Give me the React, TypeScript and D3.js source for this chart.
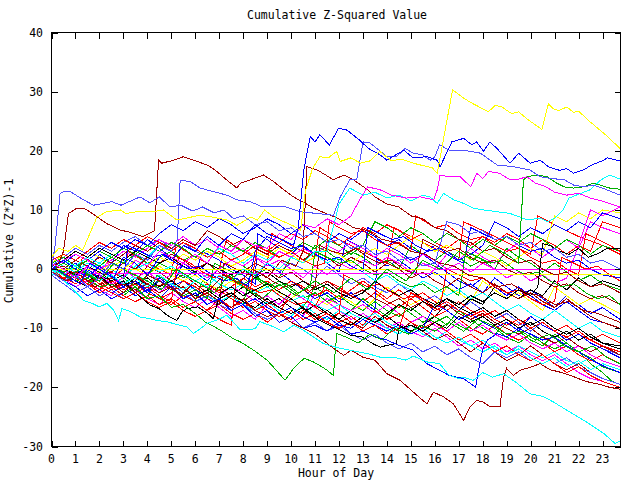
import React from 'react';
import * as d3 from 'd3';

const title = 'Cumulative Z-Squared Value';
const xLabel = 'Hour of Day';
const yLabel = 'Cumulative (Z*Z)-1';
const xTickLabels = [0, 1, 2, 3, 4, 5, 6, 7, 8, 9, 10, 11, 12, 13, 14, 15, 16, 17, 18, 19, 20, 21, 22, 23];
const yTickLabels = [-30, -20, -10, 0, 10, 20, 30, 40];
const xDomain = [0, 23.75];
const yDomain = [-30, 40];

type Pt = [number, number];

// [hour, cumulative value]
const yellowTop: Pt[] = [[0,2],[0.3,3.5],[0.7,3],[1,4],[1.3,3.2],[1.6,6],[1.9,8.8],[2.3,9.7],[2.87,10],[3.1,9.4],[3.56,9.7],[4.26,9.7],[4.67,10],[5.23,8.3],[5.6,8.6],[6.2,9.1],[6.7,8.8],[7.32,8.3],[7.74,7.4],[7.88,7.7],[8.3,8.8],[8.6,8.3],[8.9,10],[9.27,8.8],[9.7,8],[10.1,7.3],[10.4,6.5],[10.6,13.3],[10.9,17],[11.2,19],[11.55,18.8],[11.9,19.9],[12.05,18.2],[12.5,18.8],[12.9,17.9],[13.3,18.3],[13.7,19.9],[14.2,18.3],[14.6,18.6],[15.1,17.9],[15.5,17.5],[15.9,17.1],[16.1,16.2],[16.74,30.3],[17.2,28.9],[17.55,28.05],[18.24,26.6],[18.52,27.7],[18.8,27.4],[19.2,26.3],[19.5,26.6],[19.84,25.4],[20.47,23.6],[20.74,27.9],[20.95,27.1],[21.16,26.8],[21.51,27.4],[21.79,26.5],[22.0,26.7],[22.48,24.9],[23.1,22.8],[23.73,20.4]];
const blueTop: Pt[] = [[0,0.5],[0.6,-1],[1.2,-2.5],[1.6,1],[2,0],[2.6,-1.5],[3,2],[3.5,1],[4,-1],[4.6,2.5],[5,1.5],[5.5,4],[6,3],[6.5,5.5],[7,4],[7.5,6],[8,5],[8.5,7.5],[9,6],[9.6,5],[10.1,4],[10.3,7],[10.53,16.75],[10.8,22.4],[11.0,21.5],[11.2,22.7],[11.6,21.0],[11.98,23.8],[12.33,23.5],[12.8,22],[13.23,20.4],[13.72,19.3],[14.0,18.4],[14.7,20.1],[15.1,18.8],[15.67,19.0],[16.1,18.4],[16.22,17.3],[16.71,21.5],[17.2,22.1],[17.55,21.0],[17.75,21.5],[18.03,19.9],[18.3,21.5],[18.59,20.4],[19.14,17.9],[19.5,19.6],[19.98,17.9],[20.4,18.4],[20.74,17.3],[21.2,16.7],[21.5,17.0],[21.79,16.2],[22.2,16.75],[22.55,17.6],[23.05,18.4],[23.2,18.8],[23.73,18.3]];
const lightBlueEarly: Pt[] = [[0,0],[0.15,4],[0.36,12.8],[0.57,13.2],[0.78,13.1],[1.34,11.7],[1.75,10.8],[2.17,11.1],[2.52,11.4],[2.9,10.8],[3.3,11.5],[3.7,12.2],[4.1,11.2],[4.5,12.2],[4.95,10.5],[5.4,10.8],[5.9,9.8],[6.3,10.5],[6.8,9.5],[7.2,10],[7.6,8.5],[8,9],[8.5,7.5],[9,8],[9.5,6.5],[10,7],[10.5,5.5],[11,6],[11.5,4.5],[12,5],[12.5,3.5],[13,4],[13.5,2.5],[14,3],[14.5,1.5],[15,2],[15.5,0.5],[16,1],[16.5,8],[17,7.5],[17.5,6],[18,6.5],[18.5,5],[19,5.5],[19.5,4],[20,4.5],[20.5,3],[21,3.5],[21.5,2],[22,2.5],[22.5,1],[23,1.5],[23.73,0]];
const lightBlueLate: Pt[] = [[0,-0.5],[0.5,-2],[1,-1],[1.5,-3],[2,-1.5],[2.5,1],[3,0],[3.5,2.5],[4,1.5],[4.5,4],[5,3],[5.25,5],[5.37,15],[5.8,14.8],[6.2,13.7],[6.75,13.1],[7.32,12.5],[7.74,11.7],[8.3,11.4],[8.8,10.5],[9.27,10.5],[9.8,10.5],[10.38,9.7],[11.08,9.4],[11.77,9.1],[12.05,12.2],[12.45,15.1],[12.74,15.1],[13.0,21.5],[13.3,21.3],[13.58,20.4],[14.0,19],[14.4,19],[14.76,20.4],[15.1,19.6],[15.5,19.3],[15.8,18.4],[16.0,19],[16.2,21],[16.6,20.1],[17.2,20.1],[17.9,19.6],[18.6,17.6],[19.3,17.3],[19.98,16.75],[20.4,15.6],[20.9,15.3],[21.4,15.1],[21.8,14.2],[22.2,13.9],[22.6,14.2],[23.0,13.7],[23.73,12.5]];
const magentaHigh: Pt[] = [[0,1],[0.5,0],[1,-1.5],[1.5,0.5],[2,-1],[2.5,-2.5],[3,-1.5],[3.5,1.5],[4,0.5],[4.5,3],[5,2],[5.5,1],[6,2.5],[6.5,1],[7,4],[7.5,3],[8,5],[8.5,4],[9,3.5],[9.5,6],[10,5],[10.5,7.5],[11,7],[11.5,8.5],[12,7.5],[12.5,9],[12.9,12],[13.2,13.9],[13.72,13.4],[14.2,12.5],[14.8,12],[15.4,12.2],[15.95,11.7],[16.1,13.4],[16.22,15.9],[16.6,15.6],[17.06,15.6],[17.5,13.9],[17.75,16.2],[18.0,15.3],[18.24,16.5],[18.7,16.2],[19.14,15.1],[19.4,15.1],[19.84,15.6],[20.2,14.5],[20.6,14],[21,13],[21.5,12.5],[22,12.8],[22.5,12],[23,11.5],[23.73,10.5]];
const greenHigh: Pt[] = [[0,0.5],[0.7,-1.5],[1.2,0],[2,-2],[2.6,1],[3.2,-0.5],[4,-2],[4.6,-3.5],[5.2,0],[6,-2],[6.8,-4],[7.4,-1],[8,-3],[8.8,-5],[9.5,-2.5],[10.2,-4.5],[11,-2],[11.8,-4],[12.5,-1.5],[13.2,-3.5],[14,0],[14.8,-2],[15.5,1.5],[16.2,0],[17,3],[17.6,1.5],[18.3,4],[19,2.5],[19.5,1],[19.56,5.5],[19.7,15.1],[19.84,15.6],[20.26,15.9],[20.7,15.6],[21.1,14.5],[21.4,13.9],[21.8,13.7],[22.2,13.9],[22.6,14.5],[22.9,14.2],[23.3,13.7],[23.73,13.5]];
const cyanHigh: Pt[] = [[0,0],[0.5,-1],[1,0.5],[1.5,-0.5],[2,-2],[2.5,-1],[3,-2.5],[3.5,-1.5],[4,-3],[4.5,-1],[5,-2.5],[5.5,-3.5],[6,-2],[6.5,-3],[7,-1],[7.5,-2],[8,0],[8.5,-1],[9,1],[9.5,0],[10,2],[10.5,1],[11,3],[11.5,3],[12,11],[12.45,13.7],[13,12.5],[13.5,13],[14,12],[14.5,12.5],[15,11.5],[15.5,12.5],[15.8,12.2],[16.1,11.1],[16.36,12.8],[16.8,11.7],[17.2,11.1],[17.6,10.3],[18.03,10],[18.6,9.7],[19.14,9.4],[19.56,8.8],[19.84,8.3],[20.4,8.6],[20.7,8.0],[21.0,8.6],[21.35,10],[21.6,12],[21.9,12.5],[22.48,13.4],[22.9,15],[23.3,15.9],[23.73,15.2]];
const darkRedEarly: Pt[] = [[0,0.5],[0.3,1],[0.5,3],[0.71,9.4],[1.06,10.3],[1.34,10.3],[1.6,9.7],[2.3,7.7],[2.87,6.6],[3.3,6.2],[3.8,5.5],[4.3,6.5],[4.47,18.4],[4.6,17.9],[5.1,18.4],[5.5,19.0],[6.07,18.2],[6.5,17.6],[6.83,16.75],[7.3,15.1],[7.74,13.7],[7.88,14.5],[8.3,15.1],[8.85,15.9],[9.27,14.8],[9.7,13.4],[10.1,12.2],[10.6,11.1],[10.94,10.3],[11.4,9.5],[12,8.5],[12.6,7],[13.2,6.5],[13.8,5],[14.4,4.5],[15,3],[15.6,2.5],[16.2,1],[16.8,0.5],[17.4,-1],[18,-1.5],[18.6,-3],[19.2,-2.5],[19.8,-4],[20.4,-4.5],[21,-6],[21.6,-5.5],[22.2,-7],[22.8,-7.5],[23.73,-9]];
const darkRedMid: Pt[] = [[0,-0.5],[0.6,-2],[1.2,-1],[1.8,-3],[2.4,-2],[3,-4],[3.6,-1.5],[4.2,-3],[4.8,-2.5],[5.4,-4.5],[6,-2],[6.6,-3.5],[7.2,-1],[7.8,-2.5],[8.4,0],[9,-1.5],[9.6,1.5],[10.2,0.5],[10.5,3],[10.66,17.3],[11.1,16.75],[11.77,15.1],[12.2,15.9],[12.6,15.1],[13.2,13.4],[13.5,12.2],[14,11],[14.5,10.5],[15,9],[15.5,8.5],[16,7],[16.5,6.5],[17,5],[17.5,4.5],[18,3],[18.5,3.5],[19,2],[19.5,1],[20,1.5],[20.5,0],[21,-1],[21.5,-0.5],[22,-2],[22.5,-3],[23,-2.5],[23.73,-4]];
const cyanLow: Pt[] = [[0,0],[0.4,-1.5],[0.8,-3],[1.34,-5.3],[1.7,-5.8],[2.0,-6.4],[2.31,-5.8],[2.6,-7],[2.8,-8.7],[2.94,-6.7],[3.3,-7.2],[3.7,-8.1],[4.1,-8.4],[4.4,-8.7],[4.8,-8.9],[5.37,-9.5],[5.65,-9.8],[5.93,-10.9],[6.2,-10.1],[6.49,-9.2],[7.04,-8.4],[7.32,-7.8],[7.6,-9],[7.88,-10.3],[8.5,-10.1],[8.7,-8.9],[9.3,-9.8],[9.7,-10.6],[10.1,-9.5],[10.5,-10.3],[11.35,-12.6],[12.05,-13.4],[13.2,-14.3],[13.72,-14.9],[14.3,-14.9],[14.8,-15.4],[15.1,-14.7],[15.67,-15.7],[16.2,-16],[16.6,-18],[17.0,-18.5],[17.2,-18.3],[17.6,-18.8],[18.0,-17.5],[18.4,-18.3],[18.87,-17.7],[19.4,-19.2],[19.98,-21.1],[20.5,-21.5],[20.96,-22.5],[21.65,-24.2],[22.35,-25.9],[23.05,-27.8],[23.53,-29.5],[23.73,-29.1]];
const greenLow: Pt[] = [[0,0.5],[0.5,-1],[1,-2],[1.5,-1.5],[2,-3],[2.5,-2.5],[3,-4],[3.5,-3],[4,-5],[4.5,-4.5],[5,-6.5],[5.5,-6],[6,-7.5],[6.4,-8.9],[7.04,-10.3],[7.6,-11.8],[7.88,-12.3],[8.43,-13.7],[9.0,-15.4],[9.27,-16.6],[9.75,-18.8],[9.95,-17.7],[10.1,-16.8],[10.38,-15.7],[10.55,-15.1],[10.93,-15.7],[11.2,-16.3],[11.5,-17.1],[11.77,-18.0],[11.84,-14],[11.91,-10.9],[12.3,-11.5],[12.8,-12.5],[13.3,-11],[13.8,-12],[14.3,-10],[14.9,-11],[15.4,-9.5],[16,-10.5],[16.6,-9],[17.2,-10.5],[17.8,-8.5],[18.4,-9.5],[19,-11],[19.6,-10.5],[20.2,-12],[20.8,-11],[21.4,-13],[22,-14],[22.6,-13],[23.2,-15],[23.73,-16]];
const darkRedLow: Pt[] = [[0,0],[0.5,-1],[1,-0.5],[1.5,-2],[2,-1.5],[2.5,-3],[3,-2.5],[3.5,-4],[4,-1],[4.5,-2],[5,-3.5],[5.5,-3],[6,-5],[6.5,-4],[7,-5.5],[7.5,-6.5],[8,-5],[8.5,-7],[9,-8],[9.5,-7.5],[10,-9],[10.5,-10],[11,-11],[11.4,-12.2],[11.77,-13.4],[12.2,-14.6],[12.5,-13.7],[13.0,-14.9],[13.5,-15.4],[14.0,-17.7],[14.55,-18.8],[15.1,-20.8],[15.67,-22.8],[15.94,-20.8],[16.36,-21.6],[16.78,-22.8],[17.2,-25.6],[17.47,-23.3],[17.75,-22.2],[18.03,-22.5],[18.3,-23.3],[18.72,-23.3],[18.87,-18.3],[19.0,-16.8],[19.28,-18.0],[19.56,-17.1],[19.98,-16.6],[20.4,-16],[20.8,-17],[21.3,-17.5],[21.8,-18.2],[22.3,-19],[22.9,-19.5],[23.3,-20],[23.73,-20.3]];
const blueLow: Pt[] = [[0,0],[0.5,1.5],[1,0],[1.5,-1.5],[2,0.5],[2.5,-1],[3,-3],[3.5,-2],[4,-4],[4.5,-1.5],[5,-3],[5.5,-5],[6,-4],[6.5,-6],[7,-5],[7.5,-7],[8,-6],[8.5,-8],[9,-7],[9.5,-9],[10,-8],[10.5,-10],[11,-9.5],[11.5,-10.5],[12,-9],[12.5,-11],[13,-10.5],[13.5,-11.5],[14,-12],[14.5,-12.9],[15.1,-13.7],[15.67,-16],[16.2,-17.1],[16.6,-18],[17.2,-18.5],[17.7,-20],[17.9,-15.4],[18.03,-13.2],[18.2,-12],[18.6,-10.9],[19,-11.5],[19.5,-10],[20,-11],[20.5,-12],[21,-11.5],[21.5,-13],[22,-14],[22.6,-15.5],[23.1,-16.5],[23.73,-17.5]];
const blackMid: Pt[] = [[0,0],[0.5,-1],[1,-0.5],[1.5,-2],[2,-1],[2.5,-3],[3,-2],[3.5,-4],[4.12,-6.1],[4.5,-6.7],[4.82,-7.8],[5.23,-8.7],[5.45,-7.2],[5.65,-6.7],[6.1,-6.4],[6.34,-7],[6.6,-7.8],[6.76,-8.4],[6.9,-6.1],[7.04,-4.1],[7.5,-3],[8,-4.5],[8.5,-3.5],[9,-2.5],[9.4,-3.6],[10,-5],[10.6,-7],[11.2,-8.7],[11.6,-9.5],[12.05,-10.3],[12.5,-11.2],[13.0,-11.5],[13.4,-12.6],[13.72,-13.2],[14.0,-12.9],[14.4,-12.6],[14.5,-10],[15,-9.5],[15.5,-10.5],[16,-9],[16.5,-10],[17,-8],[17.5,-9],[18,-8],[18.5,-9.5],[19,-8.5],[19.5,-10],[20,-9],[20.5,-10.5],[21,-11.5],[21.5,-10.5],[22,-12],[22.5,-11],[23,-12.5],[23.73,-13]];
const blackRight: Pt[] = [[0,1],[0.5,0],[1,-1],[1.5,0.5],[2,-0.5],[2.5,-2],[3,-1],[3.5,-2.5],[4,-1.5],[4.5,-3],[5,-2],[5.5,-3.5],[6,-4.5],[6.5,-3.5],[7,-5],[7.5,-4],[8,-5.5],[8.5,-6.5],[9,-5],[9.5,-6.5],[10,-7.5],[10.5,-6.5],[11,-8],[11.5,-7],[12,-8.5],[12.5,-9.5],[13,-8],[13.5,-9],[14,-7.5],[14.5,-6],[15,-7],[15.5,-5.5],[16,-6.5],[16.5,-5],[17,-6],[17.5,-4.5],[18,-5.5],[18.5,-4],[19,-5],[19.5,-3.5],[20,-4.5],[20.3,-3],[20.5,4.3],[20.8,4],[21.2,3],[21.6,2.5],[22,3.5],[22.4,2],[22.8,2.6],[23.2,3.5],[23.73,3.5]];

const band01: Pt[] = [[0,0],[1,-2],[1.3,2],[2,0.5],[3,-1.5],[3.2,3],[4,1],[5,-1],[5.2,4],[6,2],[7,0],[7.3,5],[8,3],[9,1],[9.2,6],[10,4],[11,2],[11.2,7],[12,5],[13,3],[14,1],[14.3,7],[15,5.5],[16,3.5],[17,1.5],[17.2,8],[18,6.5],[19,4.5],[20,2.5],[20.3,9],[21,7.5],[22,5.5],[23,4],[23.73,2.5]];
const band02: Pt[] = [[0,1],[0.5,0],[1,-1.5],[1.5,-2.5],[2,-1],[2.5,-3],[3,-4.5],[3.5,-3],[4,-5],[4.4,-1],[5,-2.5],[5.5,-4],[6,-5.5],[6.3,-2],[7,-3.5],[7.5,-5],[8,-6],[8.3,-1],[9,-2.5],[9.5,-4],[10,-5],[10.5,-6.5],[11,-3],[11.5,-4.5],[12,-6],[12.5,-7],[13,-5],[13.5,-6.5],[14,-8],[14.5,-6],[15,-7.5],[15.5,-9],[16,-8],[16.5,-9.5],[17,-7],[17.5,-8.5],[18,-10],[18.5,-11],[19,-9],[19.5,-10.5],[20,-12],[20.5,-13],[21,-11],[21.5,-12.5],[22,-14],[22.5,-16],[23,-17.5],[23.4,-19],[23.73,-19.5]];
const band03: Pt[] = [[0,0.5],[0.5,-0.5],[1,1],[1.5,-0.5],[2,2.5],[2.5,1],[3,4],[3.5,3],[4,5],[4.5,3.5],[5,2],[5.5,0.5],[6,-1],[6.3,3],[7,1.5],[7.5,0],[8,-1],[8.5,-2.5],[8.6,6],[9,5],[9.5,3.5],[10,2.5],[10.4,4],[11,2.5],[11.5,1],[12,-0.5],[12.3,5],[13,3.5],[13.5,2],[14,0.5],[14.5,1.5],[15,0],[15.5,-1.5],[16,-0.5],[16.5,-2],[17,-3.5],[17.5,-2.5],[18,-4],[18.5,-1.5],[19,-3],[19.5,-4.5],[20,-3.5],[20.5,-5],[21,-6.5],[21.5,-4.5],[22,-6],[22.5,-7.5],[23,-6.5],[23.73,-8.5]];
const band04: Pt[] = [[0,-0.5],[0.5,-1.5],[1,-3],[1.5,-2],[2,-3.5],[2.5,-4.5],[3,-2],[3.5,-3.5],[4,-5],[4.5,-6],[5,-4],[5.5,-5.5],[6,-6.5],[6.5,-5],[7,-6.5],[7.5,-8],[8,-7],[8.5,-8.5],[9,-6],[9.5,-7.5],[10,-9],[10.5,-8],[11,-4],[11.5,-5.5],[12,-7],[12.5,-8.5],[13,-7.5],[13.5,-9],[14,-10],[14.5,-9],[15,-10.5],[15.5,-11.5],[16,-10],[16.5,-11.5],[17,-13],[17.5,-12],[18,-13.5],[18.5,-12.5],[19,-14],[19.5,-13],[20,-14.5],[20.5,-15.5],[21,-14.5],[21.5,-16],[22,-17.5],[22.5,-18.5],[23,-19],[23.73,-20]];
const band05: Pt[] = [[0,1.5],[0.5,0.5],[1,-0.5],[1.5,1],[2,0],[2.5,-1.5],[3,-2.5],[3.5,-1],[4,-2],[4.5,-3.5],[5,-2.5],[5.5,-4],[6,-3],[6.5,-4.5],[7,-5.5],[7.5,-4.5],[8,-6],[8.5,-7],[9,-5.5],[9.5,-7],[10,-8],[10.5,-6],[11,-7.5],[11.5,-8.5],[12,-7],[12.5,-8],[13,-9.5],[13.5,-8.5],[14,-10],[14.5,-11],[15,-9.5],[15.5,-11],[16,-12],[16.5,-10.5],[17,-12],[17.5,-13],[18,-12],[18.5,-13.5],[19,-14.5],[19.5,-13],[20,-14],[20.5,-15],[21,-14],[21.5,-15.5],[22,-16],[22.5,-15],[23,-16.5],[23.73,-17.5]];
const band06: Pt[] = [[0,0],[0.5,1],[1,0],[1.5,-1],[2,-2.5],[2.5,-1.5],[3,-3],[3.5,-2],[4,0.5],[4.5,-0.5],[5,-2],[5.5,-1],[6,-2.5],[6.5,-4],[7,-3],[7.5,-4.5],[8,-5.5],[8.5,-4],[9,-5.5],[9.5,-6.5],[10,-5],[10.5,-6.5],[11,-8],[11.5,-9],[12,-7.5],[12.5,-9],[13,-10],[13.5,-8],[14,-9.5],[14.5,-10.5],[15,-9],[15.5,-10.5],[16,-12],[16.5,-11],[17,-12.5],[17.5,-14],[18,-12.5],[18.5,-14],[19,-15.5],[19.5,-14.5],[20,-13],[20.5,-14.5],[21,-16],[21.5,-17],[22,-16],[22.5,-17.5],[23,-18.5],[23.73,-19.5]];
const band07: Pt[] = [[0,1],[0.5,2.5],[1,1.5],[1.5,3],[2,2],[2.5,0.5],[3,1.5],[3.5,0],[4,-1],[4.5,0.5],[5,-1],[5.5,-2],[6,-1],[6.5,-2.5],[7,-3.5],[7.5,-2],[8,-3],[8.5,-4],[9,-2.5],[9.5,-4],[10,-5],[10.5,-3.5],[11,-5],[11.5,-6],[12,-4.5],[12.5,-5.5],[13,-7],[13.5,-5],[14,-3],[14.5,-4.5],[15,-6],[15.5,-5],[16,-6.5],[16.5,-3],[17,-4],[17.5,-5.5],[18,-2],[18.5,-3.5],[19,-5],[19.5,-4],[20,-5.5],[20.5,-7],[21,-3],[21.5,-4.5],[22,-6],[22.5,-5],[23,-6],[23.73,-7.5]];
const band08: Pt[] = [[0,0],[0.5,-1],[1,-2],[1.5,-3],[2,-1],[2.5,-2],[3,-3],[3.5,-1.5],[4,-2.5],[4.5,-4],[5,-3],[5.5,-4.5],[6,-3.5],[6.5,-5],[7,-6],[7.5,-4.5],[8,-3],[8.5,-4.5],[9,-6],[9.5,-5],[10,-6.5],[10.5,-7.5],[11,-6],[11.5,-7.5],[12,-8.5],[12.5,-7],[13,-8],[13.5,-9],[14,-8],[14.5,-9.5],[15,-10.5],[15.5,-9.5],[16,-8],[16.5,-6],[17,-7],[17.5,-5],[18,-6],[18.5,-3],[19,-4],[19.5,-5],[20,-3.5],[20.5,-4.5],[21,-2],[21.5,-3.5],[22,-1.5],[22.5,-3],[23,-2],[23.73,-3]];
const band09: Pt[] = [[0,0.5],[0.5,2],[1,3.5],[1.5,2.5],[2,4],[2.5,3],[3,4.5],[3.5,5.5],[4,4],[4.5,5],[5,3.5],[5.5,4.5],[6,3],[6.5,2],[7,3],[7.5,1.5],[8,0.5],[8.5,2],[9,1],[9.5,-0.5],[10,1],[10.5,0],[11,-1.5],[11.5,0.5],[12,-1],[12.5,-2.5],[13,-1.5],[13.5,-3],[14,-4],[14.5,-2.5],[15,-4],[15.5,-5.5],[16,-4.5],[16.5,-6],[17,-7],[17.5,-5.5],[18,-7],[18.5,-8.5],[19,-7.5],[19.5,-9],[20,-10.5],[20.5,-9],[21,-10.5],[21.5,-12],[22,-11],[22.5,-12.5],[23,-13.5],[23.73,-14.5]];
const band10: Pt[] = [[0,0],[0.5,-1.5],[1,-1],[1.5,-2.5],[2,-3.5],[2.5,-2],[3,-3],[3.5,-4.5],[4,-3.5],[4.5,-5],[5,-6],[5.5,-4.5],[6,-5.5],[6.5,-7],[7,-6],[7.5,-7.5],[8,-8.5],[8.5,-7.5],[9,-9],[9.5,-7.5],[10,-4],[10.5,-5],[11,-6.5],[11.5,-2],[12,-3],[12.5,-4.5],[13,-5.5],[13.5,-4],[14,-5.5],[14.5,-6.5],[15,-5],[15.5,-6.5],[16,-8],[16.5,-7],[17,-8.5],[17.5,-10],[18,-11],[18.5,-9.5],[19,-11],[19.5,-12],[20,-11],[20.5,-12.5],[21,-14],[21.5,-13],[22,-14.5],[22.5,-15.5],[23,-14.5],[23.73,-16]];
const band11: Pt[] = [[0,1],[0.5,2],[1,0.5],[1.5,1.5],[2,3],[2.5,2],[3,3.5],[3.5,2.5],[4,1],[4.5,2],[5,3],[5.5,1.5],[6,2.5],[6.5,1],[7,0],[7.5,1.5],[8,0.5],[8.5,-1],[9,0],[9.5,-1.5],[10,2],[10.5,1],[11,4],[11.5,3],[12,1.5],[12.5,3],[13,2],[13.5,0.5],[14,1.5],[14.5,0],[15,4],[15.5,2.5],[16,1.5],[16.5,3],[17,2],[17.5,0.5],[18,1.5],[18.5,0],[19,3.5],[19.5,2],[20,1],[20.5,-0.5],[21,1],[21.5,-0.5],[22,-2],[22.5,-1],[23,-2.5],[23.73,-3.5]];
const band12: Pt[] = [[0,-0.5],[0.5,-2],[1,-3],[1.5,-4.5],[2,-3.5],[2.5,-5],[3,-4],[3.5,-2],[4,-3.5],[4.5,-5],[5,-3],[5.5,1],[6,-0.5],[6.5,-2],[7,0],[7.5,-1.5],[8,-3],[8.5,-1.5],[9,1],[9.5,-0.5],[10,-2],[10.5,-3.5],[11,-5],[11.5,-4],[12,-5.5],[12.5,-4],[13,-5.5],[13.5,-7],[13.6,5],[14,4],[14.5,3],[15,1.5],[15.5,2.5],[16,1],[16.5,-0.5],[17,-2],[17.5,-3],[18,-1.5],[18.5,-3],[19,-4.5],[19.5,-3],[20,-4.5],[20.5,-6],[21,-7],[21.5,-5.5],[22,-7],[22.5,-8.5],[23,-9],[23.73,-10]];
const band13: Pt[] = [[0,2],[0.5,1],[1,2.5],[1.5,1.5],[2,0],[2.5,1.5],[3,3],[3.5,2],[4,3.5],[4.5,5],[5,4],[5.5,5.5],[6,4],[6.5,5],[7,3.5],[7.5,2.5],[8,3.5],[8.5,2],[9,0.5],[9.5,1.5],[10,0],[10.5,-1.5],[11,0.5],[11.5,-1],[12,1],[12.5,0],[13,1.5],[13.5,0.5],[14,2],[14.5,1],[15,-0.5],[15.5,1],[16,0],[16.5,2.5],[17,1.5],[17.5,3.5],[18,2],[18.5,1],[19,3],[19.5,4.5],[20,3.5],[20.5,2],[21,3.5],[21.5,5],[22,3.5],[22.5,8],[23,7],[23.73,6]];
const band14: Pt[] = [[0,-1],[0.5,0],[1,-1.5],[1.5,-0.5],[2,1],[2.5,0],[3,-1.5],[3.5,0.5],[4,2],[4.5,4],[5,3],[5.5,4.5],[6,3.5],[6.5,2],[7,3.5],[7.5,2.5],[8,1],[8.5,2.5],[9,1.5],[9.5,3],[10,2],[10.5,3.5],[11,2.5],[11.5,1],[12,2],[12.5,0.5],[13,-0.5],[13.5,-2],[14,-1],[14.5,-2.5],[15,-3.5],[15.5,-2],[16,-3],[16.5,-4.5],[17,-3.5],[17.5,-5],[18,-4],[18.5,-5.5],[19,-7],[19.5,-6],[20,-7.5],[20.5,-8.5],[21,-7],[21.5,-8.5],[22,-10],[22.5,-9],[23,-10.5],[23.73,-11.5]];
const band15: Pt[] = [[0,1],[0.5,0],[1,1.5],[1.5,0.5],[2,2],[2.5,1],[3,2.5],[3.5,4],[4,3],[4.5,4.5],[5,3.5],[5.5,5],[6,4],[6.5,6.5],[7,5.5],[7.5,4],[8,5],[8.5,3.5],[9,2.5],[9.5,4],[10,3],[10.5,1.5],[11,3],[11.5,2],[12,0.5],[12.5,2],[13,1],[13.5,-0.5],[14,1],[14.5,0],[15,-1.5],[15.5,-0.5],[16,-2],[16.5,-3],[17,-1.5],[17.5,-3],[18,-4],[18.5,-2.5],[19,-4],[19.5,-5],[20,-4],[20.5,-5.5],[21,-6.5],[21.5,-5],[22,-6.5],[22.5,-8],[23,-9],[23.73,-10]];
const band16: Pt[] = [[0,0.5],[0.5,-0.5],[1,-2],[1.5,-1],[2,-2.5],[2.5,-1.5],[3,0],[3.5,-1],[4,-2.5],[4.5,-1.5],[5,-3],[5.5,-2],[6,-3.5],[6.5,-2.5],[7,-4],[7.5,-3],[8,-1.5],[8.5,-3],[9,-2],[9.5,-3.5],[10,-2],[10.5,-3],[11,-4.5],[11.5,-3.5],[12,-5],[12.5,-3.5],[13,-2],[13.5,-3.5],[14,-5],[14.5,-3.5],[15,-5],[15.5,-4],[16,-5.5],[16.5,-7],[17,-5.5],[17.5,-7],[18,-8],[18.5,-7],[19,-8.5],[19.5,-9.5],[20,-8],[20.5,-9.5],[21,-10.5],[21.5,-9.5],[22,-11],[22.5,-12],[23,-11],[23.73,-12.5]];
const band17: Pt[] = [[0,1.5],[0.5,2.5],[1,1.5],[1.5,3],[2,4.5],[2.5,3.5],[3,5],[3.5,4],[4,5.5],[4.5,4.5],[5,3],[5.5,4.5],[6,3.5],[6.5,2],[7,3],[7.5,1.5],[8,2.5],[8.5,4],[9,3],[9.5,4.5],[10,6],[10.5,5],[11,6.5],[11.5,5.5],[12,4],[12.5,5.5],[13,7],[13.5,6],[14,7.5],[14.5,6.5],[15,5],[15.5,6],[16,4.5],[16.5,3.5],[17,5],[17.5,4],[18,5.5],[18.5,4.5],[19,6],[19.5,5],[20,3.5],[20.5,5],[21,4],[21.5,2.5],[22,4],[22.5,3],[23,8],[23.73,7]];
const band18: Pt[] = [[0,-0.5],[0.5,-1.5],[1,-0.5],[1.5,-2],[2,-1],[2.5,-2.5],[3,-1.5],[3.5,-3],[4,-1],[4.5,1],[5,0],[5.5,-1.5],[6,-0.5],[6.5,1],[7,0],[7.5,-1],[8,-2.5],[8.5,-1.5],[9,-3],[9.5,-2],[10,-3.5],[10.5,-5],[11,-4],[11.5,-5.5],[12,-4.5],[12.5,-6],[13,-7],[13.5,-5.5],[14,-7],[14.5,-8],[15,-6.5],[15.5,-8],[16,-9],[16.5,-8],[17,-9.5],[17.5,-10.5],[18,-9],[18.5,-10],[19,-11.5],[19.5,-12.5],[20,-11],[20.5,-12.5],[21,-13.5],[21.5,-12.5],[22,-14],[22.5,-15],[23,-16.5],[23.73,-17.5]];
const band19: Pt[] = [[0,0],[0.5,1],[1,2.5],[1.5,1.5],[2,3],[2.5,4.5],[3,3.5],[3.5,5],[4,4],[4.5,6],[5,7.5],[5.5,6.5],[6,8],[6.5,7],[7,8.5],[7.5,7.5],[8,6],[8.5,7],[9,8.5],[9.5,7.5],[10,6],[10.5,7.5],[11,6],[11.5,4.5],[12,6],[12.5,5],[13,6.5],[13.5,5.5],[14,4],[14.5,5],[15,3.5],[15.5,2.5],[16,4],[16.5,3],[17,1.5],[17.5,2.5],[18,4],[18.5,8],[19,7],[19.5,5.5],[20,7],[20.5,6],[21,7.5],[21.5,6.5],[22,8],[22.5,7],[23,9.5],[23.73,8.5]];
const band20: Pt[] = [[0,0.5],[0.5,-0.5],[1,0.5],[1.5,-1],[2,-2],[2.5,-1],[3,-2.5],[3.5,-1.5],[4,-3],[4.5,-4],[5,-2.5],[5.5,-3.5],[6,-2],[6.5,-3],[7,-4.5],[7.5,-3],[8,-4],[8.5,-5.5],[9,-4.5],[9.5,-6],[10,-4],[10.5,-5],[11,-6.5],[11.5,-5],[12,-6],[12.5,-7],[13,-6],[13.5,-7.5],[14,-6],[14.5,-7.5],[15,-9],[15.5,-8],[16,-9.5],[16.5,-10.5],[17,-9],[17.5,-10.5],[18,-9.5],[18.5,-11],[19,-12],[19.5,-11],[20,-12.5],[20.5,-13.5],[21,-12.5],[21.5,-14],[22,-13],[22.5,-14.5],[23,-15.5],[23.73,-16.5]];
const band21: Pt[] = [[0,-1],[0.5,-2.5],[1,-4],[1.5,-3],[2,-4.5],[2.5,-3.5],[3,-5],[3.5,-4],[4,-2],[4.5,-3.5],[5,-2.5],[5.5,-4],[6,-5.5],[6.5,-4.5],[7,-6],[7.5,-7],[8,-6],[8.5,-7.5],[9,-8.5],[9.5,-7.5],[10,-9],[10.5,-10],[11,-9],[11.5,-10.5],[12,-9.5],[12.5,-11],[13,-12],[13.5,-11],[14,-12.5],[14.5,-13.5],[15,-12.5],[15.5,-14],[16,-13],[16.5,-14.5],[17,-13.5],[17.5,-15],[18,-16],[18.5,-14],[19,-15],[19.5,-14],[20,-15.5],[20.5,-14.5],[21,-16],[21.5,-15],[22,-16.5],[22.5,-17.5],[23,-18.5],[23.73,-19.5]];
const band22: Pt[] = [[0,-0.5],[0.5,-2],[1,-1],[1.5,-2.5],[2,-4],[2.5,-3],[3,-4.5],[3.5,-5.5],[4,-4.5],[4.5,-6],[5,-5],[5.5,-6.5],[6,-5.5],[6.5,-7],[7,-5],[7.5,-6.5],[8,-5.5],[8.5,-7],[9,-6],[9.5,-7.5],[10,-8.5],[10.5,-7],[11,-8.5],[11.5,-7.5],[12,-9],[12.5,-8],[13,-9.5],[13.5,-7],[14,-8.5],[14.5,-7.5],[15,-9],[15.5,-10],[16,-9],[16.5,-10.5],[17,-12],[17.5,-11],[18,-12.5],[18.5,-14],[19,-13],[19.5,-14.5],[20,-15.5],[20.5,-14.5],[21,-16],[21.5,-17.5],[22,-16.5],[22.5,-18],[23,-19],[23.73,-20]];
const band23: Pt[] = [[0,0.5],[0.5,1.5],[1,0.5],[1.5,2],[2,1],[2.5,2.5],[3,1.5],[3.5,0],[4,1],[4.5,-0.5],[5,0.5],[5.5,-1],[6,-2],[6.5,-1],[7,-2.5],[7.5,-3.5],[8,-2.5],[8.5,-4],[9,-3],[9.5,-4.5],[10,-5.5],[10.5,-4.5],[11,-6],[11.5,-7],[12,-6],[12.5,-7.5],[13,-8.5],[13.5,-7.5],[14,-9],[14.5,-10],[15,-11],[15.5,-10],[16,-11.5],[16.5,-12.5],[17,-11.5],[17.5,-13],[18,-14],[18.5,-13],[19,-14.5],[19.5,-13.5],[20,-15],[20.5,-16],[21,-15],[21.5,-16.5],[22,-15.5],[22.5,-17],[23,-16],[23.73,-17]];
const band24: Pt[] = [[0,0],[0.5,-1],[1,0.5],[1.5,-0.5],[2,-1.5],[2.5,-0.5],[3,1],[3.5,0],[4,2],[4.5,1],[5,2.5],[5.5,1.5],[6,0],[6.5,1],[7,-0.5],[7.5,-1.5],[8,-0.5],[8.5,1],[9,0],[9.5,-1.5],[10,-0.5],[10.5,-2],[11,-3],[11.5,-2],[12,-3.5],[12.5,-4.5],[13,-3.5],[13.5,-5],[14,-6],[14.5,-5],[15,-6.5],[15.5,-5.5],[16,-7],[16.5,-6],[17,-7.5],[17.5,-8.5],[18,-7.5],[18.5,-9],[19,-10],[19.5,-11],[20,-10],[20.5,-11.5],[21,-12.5],[21.5,-11.5],[22,-13],[22.5,-14],[23,-13],[23.73,-14.5]];
const band25: Pt[] = [[0,0],[0.5,-1],[1,-2],[1.5,-1],[2,-0.5],[2.5,1],[3,0],[3.5,1.5],[4,0.5],[4.5,2],[5,1],[5.5,2.5],[6,1.5],[6.5,3],[7,2],[7.5,0.5],[8,1.5],[8.5,3],[9,2],[9.5,3.5],[10,2.5],[10.5,1],[11,2],[11.5,3.5],[12,2.5],[12.5,1],[13,2.5],[13.5,3.5],[14,2.5],[14.5,4],[15,5.5],[15.5,4.5],[16,3],[16.5,4],[17,3],[17.5,1.5],[18,3],[18.5,2],[19,0.5],[19.5,2],[20,3.5],[20.5,2.5],[21,9],[21.5,8],[22,9.5],[22.5,8.5],[23,10],[23.73,9.5]];
const band26: Pt[] = [[0,0],[0.5,-1],[1,-2.5],[1.5,-1.5],[2,-3],[2.5,-4],[3,-3],[3.5,-4.5],[4,-3.5],[4.5,-2],[5,-3],[5.5,-2],[6,-3.5],[6.5,-4.5],[7,-3.5],[7.5,-5],[8,-6],[8.5,-5],[9,-6.5],[9.5,-7.5],[10,-6.5],[10.5,-8],[11,-9],[11.5,-8],[12,-9.5],[12.5,-10],[13,-8.5],[13.5,-9.5],[14,-10.5],[14.5,-9.5],[15,-11],[15.5,-10],[16,-6],[16.5,-7],[17,-8.5],[17.5,-7.5],[18,-9],[18.5,-10],[19,-9],[19.5,-10.5],[20,-8],[20.5,-9.5],[21,-10.5],[21.5,-12],[22,-11],[22.5,-12.5],[23,-13.5],[23.73,-15]];
const band27: Pt[] = [[0,0.5],[0.5,1.5],[1,3],[1.5,2],[2,3.5],[2.5,2.5],[3,1.5],[3.5,3],[4,2],[4.5,1],[5,2],[5.5,0.5],[6,-0.5],[6.5,1],[7,0],[7.5,-1],[8,0],[8.5,-1.5],[9,-0.5],[9.5,-2],[10,-3],[10.5,-2],[11,-3.5],[11.5,-2.5],[12,-4],[12.5,-5],[13,-4],[13.5,-2],[14,-3.5],[14.5,-4.5],[15,-3.5],[15.5,-5],[16,-6],[16.5,-5],[17,-6.5],[17.5,-7.5],[18,-6.5],[18.5,-8],[19,-7],[19.5,-8.5],[20,-9.5],[20.5,-8.5],[21,-10],[21.5,-11],[22,-10],[22.5,-11.5],[23,-12.5],[23.73,-13.5]];
const band28: Pt[] = [[0,0],[0.5,1],[1,0],[1.5,1.5],[2,0.5],[2.5,2],[3,1],[3.5,2.5],[4,4],[4.5,3],[5,4.5],[5.5,3.5],[6,2],[6.5,3.5],[7,2.5],[7.5,4],[8,3],[8.5,4.5],[9,3.5],[9.5,2],[10,3],[10.5,4.5],[11,3.5],[11.5,5],[12,4],[12.5,2.5],[13,4],[13.5,8],[14,7],[14.5,5.5],[15,7],[15.5,6],[16,4.5],[16.5,6],[17,5],[17.5,3.5],[18,5],[18.5,4],[19,5.5],[19.5,4.5],[20,6],[20.5,5],[21,3.5],[21.5,5],[22,4],[22.5,2.5],[23,4],[23.73,3]];
const band29: Pt[] = [[0,0],[0.5,-1.5],[1,-0.5],[1.5,-2],[2,-3],[2.5,-2],[3,-3.5],[3.5,-2.5],[4,-4],[4.5,-5],[5,-4],[5.5,-2],[6,-3],[6.5,-4.5],[7,-3.5],[7.5,-5],[8,-6.5],[8.5,-5.5],[9,-7],[9.5,-8],[10,-7],[10.5,-8.5],[11,-7.5],[11.5,-9],[12,-10],[12.5,-9],[13,-10.5],[13.5,-9.5],[14,-11],[14.5,-10],[15,-4],[15.5,-5],[16,-6.5],[16.5,-5.5],[17,-7],[17.5,-8],[18,-7],[18.5,-8.5],[19,-9.5],[19.5,-8.5],[20,-10],[20.5,-9],[21,-10.5],[21.5,-11.5],[22,-10.5],[22.5,-12],[23,-13],[23.73,-14]];
const band30: Pt[] = [[0,0],[0.5,1.5],[1,2.5],[1.5,1.5],[2,0],[2.5,1],[3,0],[3.5,-1.5],[4,-0.5],[4.5,-2],[5,-1],[5.5,1],[6,0],[6.5,-1.5],[7,0],[7.5,1.5],[8,0.5],[8.5,2],[9,1],[9.5,3],[10,2],[10.5,3.5],[11,2.5],[11.5,4],[12,3],[12.5,4.5],[13,3.5],[13.5,2],[14,3.5],[14.5,2.5],[15,1],[15.5,2.5],[16,1.5],[16.5,0],[17,1],[17.5,-0.5],[18,1],[18.5,0],[19,-1.5],[19.5,-0.5],[20,-2],[20.5,-1],[21,-2.5],[21.5,-1.5],[22,4],[22.5,10],[23,9],[23.73,10.5]];
const band31: Pt[] = [[0,0.5],[0.5,-1],[1,-2],[1.5,-1],[2,-2.5],[2.5,-3.5],[3,-2.5],[3.5,-4],[4,-3],[4.5,-4.5],[5,-5.5],[5.3,2],[5.8,1],[6.3,-0.5],[6.8,-1.5],[7.3,-1],[7.8,-2.5],[8.3,-3.5],[8.6,4],[9,3],[9.5,2],[10,3],[10.5,1.5],[11,0.5],[11.4,1],[11.6,8],[12,7],[12.5,6],[13,6.5],[13.5,5],[14,4],[14.5,4.5],[15,3],[15.2,9],[15.6,8],[16,7],[16.5,7.5],[17,6],[17.5,5],[18,5.5],[18.5,4],[19,3],[19.5,3.5],[20,2],[20.5,1],[21,1.5],[21.5,0],[22,-1],[22.3,6],[22.8,5],[23.3,4],[23.73,3]];
const band32: Pt[] = [[0,0],[0.5,0.5],[1,-1],[1.5,-0.5],[2,-2],[2.5,-1],[3,-2.5],[3.5,-3.5],[4,-2.5],[4.5,-4],[5,-3],[5.5,-4.5],[6,-3.5],[6.5,-5],[7,-6],[7.2,1],[7.7,0],[8.2,-1],[8.7,-0.5],[9.2,-2],[9.7,-3],[10.2,-2.5],[10.7,-4],[11,-3],[11.2,4],[11.7,3],[12.2,2.5],[12.7,3.5],[13.2,2],[13.7,1],[14.2,1.5],[14.7,0],[15.2,-1],[15.5,5],[16,4],[16.5,3],[17,3.5],[17.5,2],[18,1],[18.5,1.5],[19,0],[19.5,-1],[20,-0.5],[20.5,-2],[21,-3],[21.5,-2.5],[22,-4],[22.5,-5],[23,-4.5],[23.73,-6]];
const band33: Pt[] = [[0,1],[0.5,0],[1,-1],[1.5,0],[2,-1.5],[2.5,-2.5],[3,-1.5],[3.2,4],[3.7,3],[4.2,2],[4.7,2.5],[5.2,1],[5.7,0],[6.2,0.5],[6.7,-1],[7.2,-2],[7.7,-1.5],[8.2,-3],[8.5,3],[9,5.5],[9.5,4.5],[10,3.5],[10.5,4],[11,2.5],[11.5,1.5],[12,2],[12.5,0.5],[13,-0.5],[13.2,7],[13.7,6],[14.2,5],[14.7,5.5],[15.2,4],[15.7,3],[16.2,3.5],[16.7,2],[17.2,1],[17.5,7],[18,6],[18.5,5],[19,5.5],[19.5,4],[20,3],[20.5,3.5],[21,2],[21.5,1],[22,1.5],[22.5,0],[23,-1],[23.73,-1.5]];
const band34: Pt[] = [[0,-0.5],[0.5,-1.5],[1,-2.5],[1.5,-1.5],[2,-3],[2.5,-4],[3,-5],[3.5,-4],[4,-5.5],[4.5,-6.5],[5,-5.5],[5.5,-7],[6,-8],[6.5,-7],[7,-8.5],[7.5,-9.5],[7.7,-2],[8.2,-3],[8.7,-4],[9.2,-3.5],[9.7,-5],[10.2,-6],[10.7,-5.5],[11.2,-7],[11.7,-8],[12,-7.5],[12.2,-1],[12.7,-2],[13.2,-3],[13.7,-2.5],[14.2,-4],[14.7,-5],[15.2,-4.5],[15.7,-6],[16.2,-7],[16.5,0],[17,-1],[17.5,-2],[18,-1.5],[18.5,-3],[19,-4],[19.5,-3.5],[20,-5],[20.5,-6],[21,-5.5],[21.3,2],[21.8,1],[22.3,0],[22.8,0.5],[23.3,-1],[23.73,-2]];
const band35: Pt[] = [[0,0.5],[0.5,-0.5],[1,0.5],[1.5,-1],[2,-2],[2.5,-1],[3,-2.5],[3.5,-1.5],[4,-3],[4.5,-2],[5,-3.5],[5.5,-4.5],[6,-3.5],[6.5,-5],[6.8,1],[7.3,0],[7.8,-1],[8.3,-0.5],[8.8,-2],[9.3,-3],[9.8,-2.5],[10.3,-4],[10.8,-3],[11,3],[11.5,2],[12,1],[12.5,1.5],[13,0],[13.5,-1],[14,-0.5],[14.5,-2],[15,-3],[15.5,-2.5],[16,-4],[16.5,-3],[17,-4.5],[17.3,3],[17.8,2],[18.3,1],[18.8,1.5],[19.3,0],[19.8,-1],[20.3,-0.5],[20.8,-2],[21.3,-3],[21.8,-2.5],[22.3,-4],[22.8,-5],[23.3,-4.5],[23.73,-6]];
const flatYellow: Pt[] = [[0,0],[0.5,-0.1],[15.8,-0.15],[16.0,-0.9],[23.73,-0.9]];
const flatMagenta: Pt[] = [[0,0],[0.5,-0.7],[15.8,-0.7],[16.0,0],[23.73,0]];

const C = {
  red: '#ff0000', green: '#00b000', blue: '#0000ff', magenta: '#ff00ff', cyan: '#00ffff',
  darkred: '#a00000', yellow: '#ffff00', black: '#000000', lightblue: '#5050ff',
};

const seriesList: { data: Pt[]; color: string }[] = [
  { data: band01, color: C.red }, { data: band02, color: C.green }, { data: band03, color: C.blue },
  { data: band04, color: C.magenta }, { data: band05, color: C.cyan }, { data: band06, color: C.darkred },
  { data: band07, color: C.yellow }, { data: band08, color: C.black }, { data: band09, color: C.lightblue },
  { data: band10, color: C.red }, { data: band11, color: C.green }, { data: band12, color: C.blue },
  { data: band13, color: C.magenta }, { data: band14, color: C.cyan }, { data: band15, color: C.darkred },
  { data: band16, color: C.red }, { data: band17, color: C.red }, { data: band18, color: C.green },
  { data: band19, color: C.blue }, { data: band20, color: C.magenta }, { data: band21, color: C.lightblue },
  { data: band22, color: C.red }, { data: band23, color: C.cyan }, { data: band24, color: C.darkred },
  { data: band25, color: C.yellow }, { data: band26, color: C.blue }, { data: band27, color: C.black },
  { data: band28, color: C.green }, { data: band29, color: C.red }, { data: band30, color: C.magenta },
  { data: band31, color: C.red }, { data: band32, color: C.darkred }, { data: band33, color: C.blue },
  { data: band34, color: C.red }, { data: band35, color: C.green },
  { data: flatYellow, color: C.yellow }, { data: flatMagenta, color: C.magenta },
  { data: blackMid, color: C.black }, { data: blackRight, color: C.black },
  { data: blueLow, color: C.blue }, { data: darkRedLow, color: C.darkred },
  { data: greenLow, color: C.green }, { data: cyanLow, color: C.cyan },
  { data: darkRedMid, color: C.darkred }, { data: darkRedEarly, color: C.darkred },
  { data: cyanHigh, color: C.cyan }, { data: greenHigh, color: C.green },
  { data: magentaHigh, color: C.magenta }, { data: lightBlueLate, color: C.lightblue },
  { data: lightBlueEarly, color: C.lightblue }, { data: blueTop, color: C.blue },
  { data: yellowTop, color: C.yellow },
];

const W = 640, H = 480;
const L = 51.5, R = 620.5, T = 32.5, B = 446.5;
const font = '"DejaVu Sans Mono", monospace';
const fs = 11.5;

export default function App() {
  const x = d3.scaleLinear().domain(xDomain).range([L, R]);
  const y = d3.scaleLinear().domain(yDomain).range([B, T]);
  const line = d3.line<Pt>().x(d => x(d[0])).y(d => y(d[1]));
  const tick = 6;
  return (
    <svg width={W} height={H} style={{ position: 'absolute', left: 0, top: 0, background: '#fff' }}
      fontFamily={font} fontSize={fs}>
      <rect x={0} y={0} width={W} height={H} fill="#fff" />
      <defs>
        <clipPath id="plot"><rect x={L} y={T} width={R - L} height={B - T} /></clipPath>
      </defs>
      <g clipPath="url(#plot)" shapeRendering="crispEdges">
        {seriesList.map((s, i) => (
          <path key={i} d={line(s.data) || ''} fill="none" stroke={s.color} strokeWidth={1} />
        ))}
      </g>
      <rect x={L} y={T} width={R - L} height={B - T} fill="none" stroke="#000" strokeWidth={1} shapeRendering="crispEdges" />
      <g shapeRendering="crispEdges" stroke="#000">
        {xTickLabels.map(v => (
          <g key={'xt' + v}>
            <line x1={Math.round(x(v)) + 0.5} x2={Math.round(x(v)) + 0.5} y1={B} y2={B - tick} />
            <line x1={Math.round(x(v)) + 0.5} x2={Math.round(x(v)) + 0.5} y1={T} y2={T + tick} />
          </g>
        ))}
        {yTickLabels.map(v => (
          <g key={'yt' + v}>
            <line x1={L} x2={L + tick} y1={Math.round(y(v)) + 0.5} y2={Math.round(y(v)) + 0.5} />
            <line x1={R} x2={R - tick} y1={Math.round(y(v)) + 0.5} y2={Math.round(y(v)) + 0.5} />
          </g>
        ))}
      </g>
      {xTickLabels.map(v => (
        <text key={'xl' + v} x={x(v)} y={463} textAnchor="middle" fill="#000">{v}</text>
      ))}
      {yTickLabels.map(v => (
        <text key={'yl' + v} x={43} y={y(v) + 4} textAnchor="end" fill="#000">{v}</text>
      ))}
      <text x={337} y={19} textAnchor="middle" fill="#000">{title}</text>
      <text x={336} y={477} textAnchor="middle" fill="#000">{xLabel}</text>
      <text transform="translate(13,241) rotate(-90)" textAnchor="middle" fill="#000">{yLabel}</text>
    </svg>
  );
}
